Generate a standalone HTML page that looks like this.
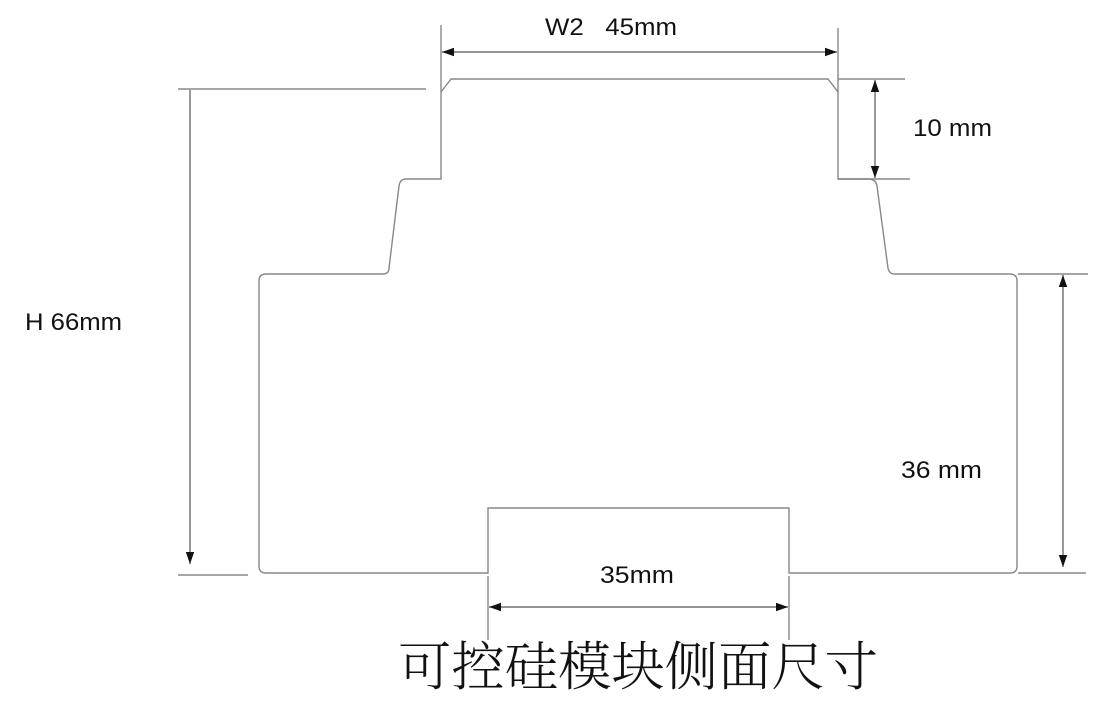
<!DOCTYPE html>
<html><head><meta charset="utf-8"><style>
html,body{margin:0;padding:0;background:#fff;}
svg{display:block;}
text{font-family:"Liberation Sans","Noto Sans CJK SC",sans-serif;fill:#111;}
</style></head><body>
<svg width="1100" height="706" viewBox="0 0 1100 706" xmlns="http://www.w3.org/2000/svg">
<defs>
<marker id="a" viewBox="0 0 10 10" refX="10" refY="5" markerWidth="12" markerHeight="12" markerUnits="userSpaceOnUse" orient="auto-start-reverse">
<path d="M0,1.5 L10,5 L0,8.5 Z" fill="#111"/></marker>
</defs>
<g fill="none" stroke="#888" stroke-width="1.4">
<path d="M441,92 L451,79 L828,79 L838,92 L838,179 L870,179 Q876,180 877,186 L888,268 Q889,274 895,274 L1010,274 Q1017,274 1017,281 L1017,566 Q1017,573 1010,573 L789,573 L789,508 L488,508 L488,573 L266,573 Q259,573 259,566 L259,281 Q259,274 266,274 L383,274 Q389,274 389,268 L399,186 Q400,179 406,179 L441,179 Z"/>
<line x1="441" y1="25" x2="441" y2="92"/>
<line x1="838" y1="28" x2="838" y2="92"/>
<line x1="838" y1="79" x2="905" y2="79"/>
<line x1="838" y1="179" x2="910" y2="179"/>
<line x1="178" y1="89" x2="426" y2="89"/>
<line x1="178" y1="575" x2="248" y2="575"/>
<line x1="1018" y1="274" x2="1088" y2="274"/>
<line x1="1018" y1="573" x2="1086" y2="573"/>
<line x1="488" y1="576" x2="488" y2="640"/>
<line x1="789" y1="576" x2="789" y2="640"/>
</g>
<g stroke="#555" stroke-width="1.2" fill="none">
<line x1="442" y1="52" x2="837" y2="52" marker-start="url(#a)" marker-end="url(#a)"/>
<line x1="875" y1="80" x2="875" y2="178" marker-start="url(#a)" marker-end="url(#a)"/>
<line x1="190" y1="90" x2="190" y2="564" marker-end="url(#a)"/>
<line x1="1063" y1="275" x2="1063" y2="567" marker-start="url(#a)" marker-end="url(#a)"/>
<line x1="489" y1="607" x2="788" y2="607" marker-start="url(#a)" marker-end="url(#a)"/>
</g>
<text x="545" y="35" font-size="24" xml:space="preserve" textLength="132" lengthAdjust="spacingAndGlyphs">W2   45mm</text>
<text x="913" y="136" font-size="24" textLength="79" lengthAdjust="spacingAndGlyphs">10 mm</text>
<text x="25" y="330" font-size="24" textLength="97" lengthAdjust="spacingAndGlyphs">H 66mm</text>
<text x="901" y="478" font-size="24" textLength="81" lengthAdjust="spacingAndGlyphs">36 mm</text>
<text x="600" y="583" font-size="24" textLength="74" lengthAdjust="spacingAndGlyphs">35mm</text>
<text x="638" y="685" font-size="53" text-anchor="middle" style="font-family:'Noto Serif CJK SC','Noto Sans CJK SC',serif;font-weight:300" textLength="480" lengthAdjust="spacingAndGlyphs">可控硅模块侧面尺寸</text>
</svg>
</body></html>
